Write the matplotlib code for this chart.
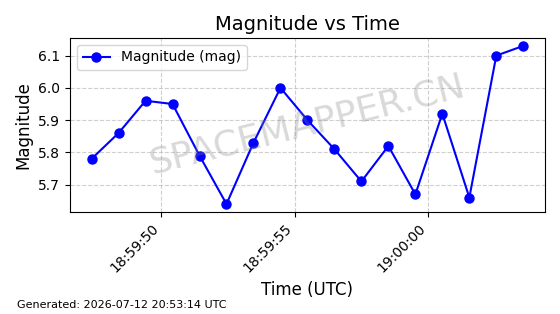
import numpy as np
import pandas as pd
import matplotlib
matplotlib.use("Agg")
import matplotlib.pyplot as plt
import matplotlib.dates as mdates

times = [
    "2026-07-12 18:59:47.40", "2026-07-12 18:59:48.41", "2026-07-12 18:59:49.42",
    "2026-07-12 18:59:50.43", "2026-07-12 18:59:51.44", "2026-07-12 18:59:52.45",
    "2026-07-12 18:59:53.46", "2026-07-12 18:59:54.47", "2026-07-12 18:59:55.48",
    "2026-07-12 18:59:56.49", "2026-07-12 18:59:57.50", "2026-07-12 18:59:58.51",
    "2026-07-12 18:59:59.52", "2026-07-12 19:00:00.53", "2026-07-12 19:00:01.54",
    "2026-07-12 19:00:02.55", "2026-07-12 19:00:03.56",
]
magnitude = [5.78, 5.86, 5.96, 5.95, 5.79, 5.64, 5.83, 6.00, 5.90,
             5.81, 5.71, 5.82, 5.67, 5.92, 5.66, 6.10, 6.13]
tick_times = ["2026-07-12 18:59:50", "2026-07-12 18:59:55", "2026-07-12 19:00:00"]
footer = "Generated: 2026-07-12 20:53:14 UTC"

t = pd.to_datetime(times)

fig, ax = plt.subplots(figsize=(5.6, 3.14), dpi=100)
fig.subplots_adjust(left=0.125, right=0.973, top=0.879, bottom=0.325)

ax.plot(t, magnitude, "o-", color="blue", lw=1.5, ms=6.5, label="Magnitude (mag)")
ax.set_title("Magnitude vs Time", fontsize=14)
ax.set_xlabel("Time (UTC)", fontsize=12)
ax.set_ylabel("Magnitude", fontsize=12)
ax.grid(True, ls="--", alpha=0.6)
ax.set_yticks([5.7, 5.8, 5.9, 6.0, 6.1])
ax.set_xticks(pd.to_datetime(tick_times))
ax.xaxis.set_major_formatter(mdates.DateFormatter("%H:%M:%S"))
plt.setp(ax.get_xticklabels(), rotation=45, ha="right")
ax.legend(loc="upper left", fontsize=10)

ax.text(0.5, 0.5, "SPACEMAPPER.CN", transform=ax.transAxes, fontsize=26,
        color="gray", alpha=0.3, rotation=14, ha="center", va="center")

fig.text(0.03, 0.02, footer, fontsize=8)

plt.savefig("out.png", dpi=100)
